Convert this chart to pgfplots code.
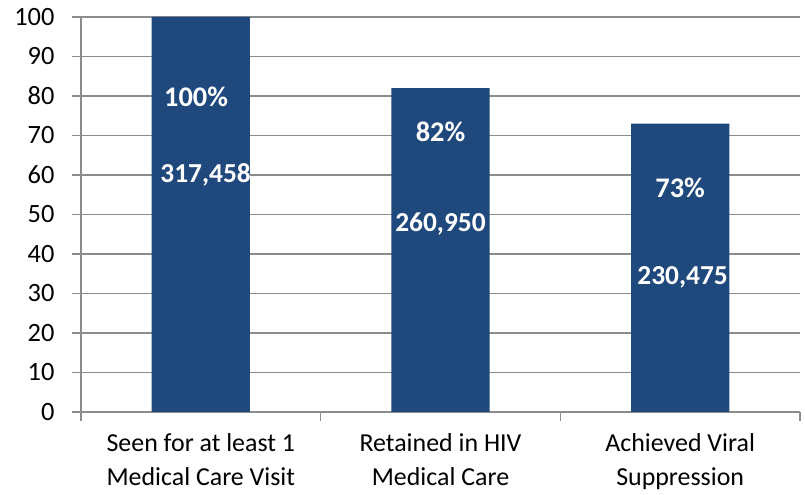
\documentclass[border=0pt]{standalone}
\usepackage{pgfplots}
\pgfplotsset{compat=1.18}
\usepackage{fontspec}
\setmainfont{Carlito}
\definecolor{barblue}{HTML}{1F497D}
\definecolor{gridgray}{HTML}{8C8C8C}
\begin{document}
\begin{tikzpicture}
\useasboundingbox (0,0) rectangle (805bp,495bp);
\begin{axis}[
  at={(81bp,83bp)}, anchor=south west,
  scale only axis, width=719bp, height=395bp,
  xmin=-0.5, xmax=2.5, ymin=0, ymax=100,
  axis x line=bottom, axis y line=left,
  axis line style={-, gridgray, line width=1.3bp},
  ytick={0,10,...,100}, ymajorgrids,
  grid style={gridgray, line width=1.3bp},
  xtick={-0.5,0.5,1.5,2.5}, x tick label as interval,
  xticklabels={{Seen for at least 1\\Medical Care Visit},{Retained in HIV\\Medical Care},{Achieved Viral\\Suppression}},
  x tick label style={align=center, font=\fontsize{26}{34}\selectfont, text=black, yshift=-9bp},
  y tick label style={font=\fontsize{26.5}{30}\selectfont, text=black, xshift=-14bp},
  /pgf/number format/assume math mode=true,
  tick style={gridgray, line width=1.3bp},
  major tick length=9bp,
  tick align=outside,
]
\addplot[ybar, bar width=0.41, fill=barblue, draw=none] coordinates {(0,100) (1,82) (2,73)};
\node[text=white, font=\fontsize{28.5}{28}\bfseries\selectfont] at (axis cs:-0.02,79.7) {100\%};
\node[text=white, font=\fontsize{27.5}{28}\bfseries\selectfont] at (axis cs:0.02,60) {317,458};
\node[text=white, font=\fontsize{28.5}{28}\bfseries\selectfont] at (axis cs:1,70.9) {82\%};
\node[text=white, font=\fontsize{27.5}{28}\bfseries\selectfont] at (axis cs:1,47.6) {260,950};
\node[text=white, font=\fontsize{28.5}{28}\bfseries\selectfont] at (axis cs:2,56.7) {73\%};
\node[text=white, font=\fontsize{27.5}{28}\bfseries\selectfont] at (axis cs:2.01,34.2) {230,475};
\end{axis}
\end{tikzpicture}
\end{document}
